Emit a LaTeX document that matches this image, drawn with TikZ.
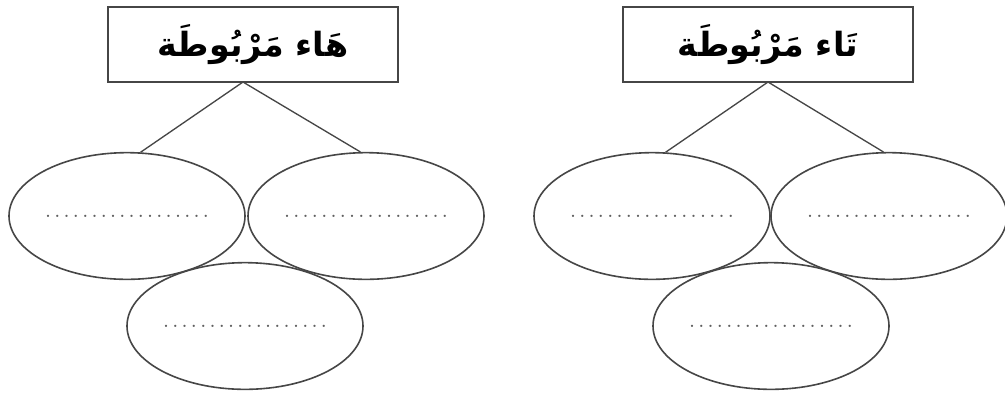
\documentclass[tikz,border=0pt]{standalone}
\usepackage{fontspec}
\newfontfamily\arabicfont[Script=Arabic]{DejaVu Sans}
\TeXXeTstate=1
\usetikzlibrary{shapes.geometric}

\definecolor{edgegray}{RGB}{70,70,70}
\definecolor{dotgray}{RGB}{95,95,95}

\tikzset{every picture/.style={line width=0.75pt}}
\tikzset{
  titlebox/.style={draw=edgegray, line width=1.3pt, minimum width=217.5pt, minimum height=56.25pt, inner sep=0pt, font=\arabicfont\bfseries\fontsize{25}{29}\selectfont},
  blankoval/.style={ellipse, draw=edgegray, line width=1.2pt, minimum width=177pt, minimum height=95pt, inner sep=0pt, text=dotgray, font=\bfseries\fontsize{12}{14}\selectfont},
  branch/.style={draw=edgegray, line width=1pt}
}
\newcommand{\dg}{.\kern3.2pt}
\newcommand{\dotrow}{\dg\dg\dg\dg\dg\dg\dg\dg\dg\dg\dg\dg\dg\dg\dg\dg\dg.}

\begin{document}
\begin{tikzpicture}[x=0.75pt,y=0.75pt,yscale=-1,xscale=1]
	\useasboundingbox (0,0) rectangle (1005,394);

	% Ha marbuta group
	\node [titlebox] (haBox) at (253,44.5) {\beginR هَاء مَرْبُوطَة\endR};
	\coordinate (haTop) at (243,82);
	%Shape: Ellipse
	\node [blankoval] (haLeft) at (127,216) {\dotrow};
	%Shape: Ellipse
	\node [blankoval] (haRight) at (366,216) {\dotrow};
	%Shape: Ellipse
	\node [blankoval] (haDown) at (245,326) {\dotrow};
	%Straight Lines
	\draw [branch] (haTop) -- (haLeft.78) ;
	\draw [branch] (haTop) -- (haRight.95) ;

	% Ta marbuta group
	\node [titlebox] (taBox) at (768,44.5) {\beginR تَاء مَرْبُوطَة\endR};
	\coordinate (taTop) at (768,82);
	%Shape: Ellipse
	\node [blankoval] (taLeft) at (652,216) {\dotrow};
	%Shape: Ellipse
	\node [blankoval] (taRight) at (889,216) {\dotrow};
	%Shape: Ellipse
	\node [blankoval] (taDown) at (771,326) {\dotrow};
	%Straight Lines
	\draw [branch] (taTop) -- (taLeft.78) ;
	\draw [branch] (taTop) -- (taRight.95) ;

\end{tikzpicture}
\end{document}
